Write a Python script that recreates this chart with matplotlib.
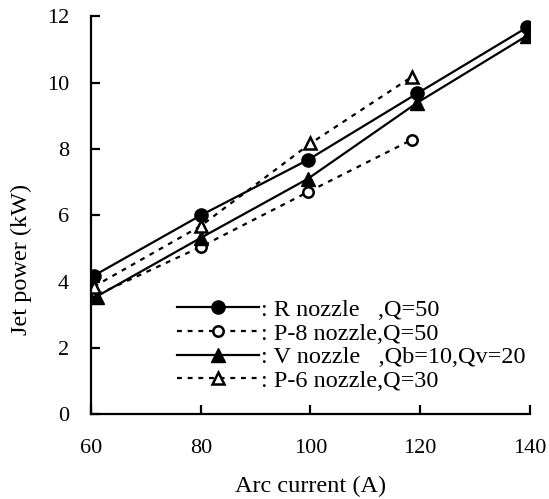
import matplotlib
matplotlib.use("Agg")
import matplotlib.pyplot as plt

# arc current (A) and jet power (kW) per nozzle
r_current = [60.5, 80, 99.5, 119.5, 139.5]
r_power = [4.18, 6.0, 7.67, 9.68, 11.67]

p8_current = [59.5, 80, 99.5, 118.5]
p8_power = [3.48, 5.05, 6.7, 8.28]

v_current = [61, 80, 99.5, 119.5, 139.5]
v_power = [3.55, 5.32, 7.1, 9.4, 11.42]

p6_current = [60.5, 80, 100, 118.5]
p6_power = [3.85, 5.68, 8.17, 10.18]

labels = [
    ": R nozzle   ,Q=50",
    ": P-8 nozzle,Q=50",
    ": V nozzle   ,Qb=10,Qv=20",
    ": P-6 nozzle,Q=30",
]

plt.rcParams["font.family"] = ["Liberation Serif", "DejaVu Serif"]

fig = plt.figure(figsize=(5.49, 4.99), dpi=100)
ax = fig.add_axes([0.166, 0.170, 0.799, 0.797])

dash = (0, (2.2, 2.6))
ax.plot(r_current, r_power, color="black", lw=1.6, marker="o", ms=9.5,
        label=labels[0])
ax.plot(p8_current, p8_power, color="black", lw=1.6, ls=dash, marker="o",
        ms=7.5, mfc="white", mew=1.8, label=labels[1])
ax.plot(v_current, v_power, color="black", lw=1.6, marker="^", ms=10,
        label=labels[2])
ax.plot(p6_current, p6_power, color="black", lw=1.6, ls=dash, marker="^",
        ms=8, mfc="white", mew=1.8, label=labels[3])

ax.set_xlim(60, 140)
ax.set_ylim(0, 12)
ax.set_xticks([60, 80, 100, 120, 140])
ax.set_yticks([0, 2, 4, 6, 8, 10, 12])
ax.spines["top"].set_visible(False)
ax.spines["right"].set_visible(False)
ax.spines["left"].set_linewidth(1.6)
ax.spines["bottom"].set_linewidth(1.6)
ax.tick_params(axis="x", direction="in", length=6.5, width=1.6, pad=18, labelsize=16)
ax.tick_params(axis="y", direction="in", length=6.5, width=1.6, pad=16, labelsize=16)

ax.set_xlabel("Arc current (A)", fontsize=17.5, labelpad=13)
ax.set_ylabel("Jet power (kW)", fontsize=17.5)
ax.yaxis.set_label_coords(-0.134, 0.39)

ax.legend(loc="upper left", bbox_to_anchor=(0.195, 0.29), frameon=False,
          handlelength=3.4, handletextpad=0.05, labelspacing=0.07,
          borderaxespad=0, borderpad=0, fontsize=17.5)

fig.savefig("out.png", dpi=100)
